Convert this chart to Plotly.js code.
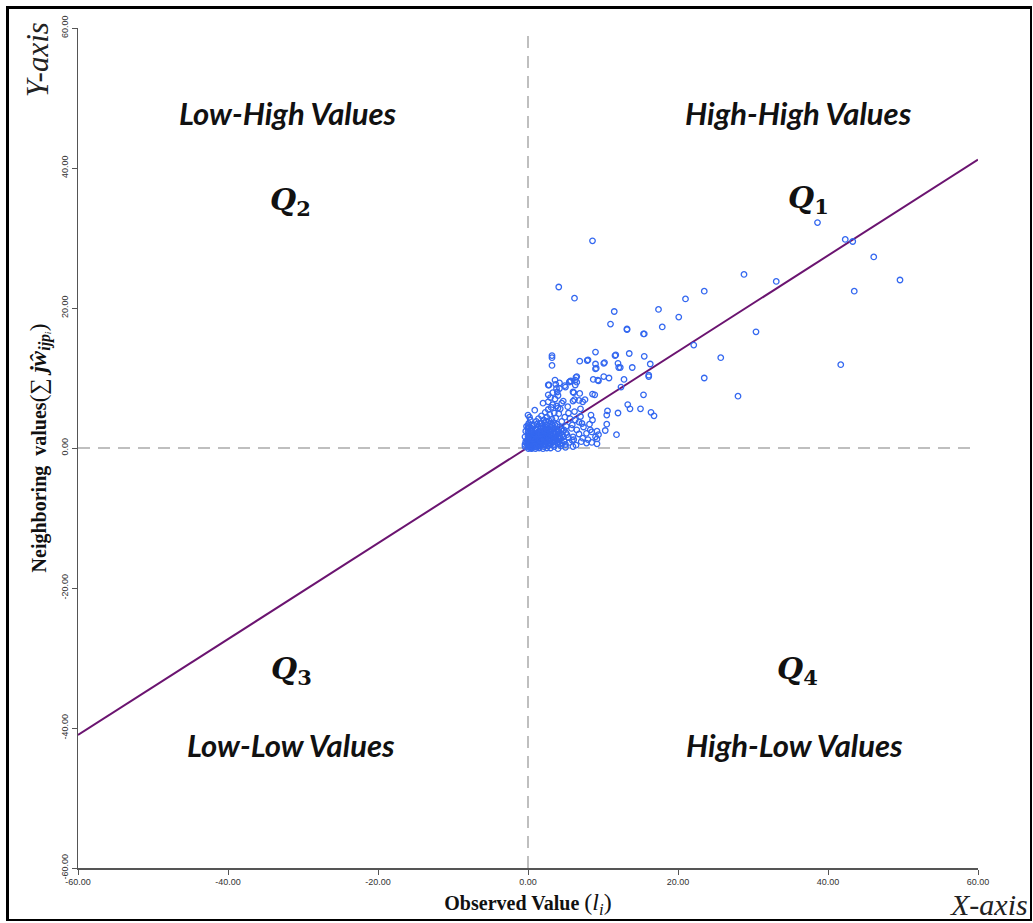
<!DOCTYPE html>
<html>
<head>
<meta charset="utf-8">
<script src="https://cdn.plot.ly/plotly-3.0.1.min.js"></script>
<style>
  html, body { margin: 0; padding: 0; background: #fff; }
  #wrap { position: relative; width: 1033px; height: 923px; }
  #chart { position: absolute; left: 0; top: 0; width: 1033px; height: 923px; }
  #frame { position: absolute; left: 6px; top: 6px; width: 1026px; height: 915px;
           box-sizing: border-box; border: 3px solid #000; border-right-width: 2px; border-bottom-width: 2px;
           pointer-events: none; }
</style>
</head>
<body>
<div id="wrap">
  <div id="chart"></div>
  <div id="frame"></div>
</div>
<script>
// ---- Data ----
// Outlying high values
const outlierX = [38.6, 42.3, 43.3, 46.1, 49.6, 43.5, 28.8, 33.1, 41.7, 30.4, 28.0, 25.7, 23.5, 22.1, 23.5, 21.0, 20.1, 17.4, 17.9, 15.4, 13.2, 11.5, 11.0, 8.6, 4.1, 6.2];
const outlierY = [32.2, 29.8, 29.5, 27.3, 24.0, 22.4, 24.8, 23.8, 11.9, 16.6, 7.4, 12.9, 10.0, 14.7, 22.4, 21.3, 18.7, 19.8, 17.3, 16.3, 17.0, 19.5, 17.7, 29.6, 23.0, 21.4];

// Middle spread
const midX = [15.5, 16.3, 16.1, 16.1, 15.4, 16.4, 16.8, 15.0, 13.6, 13.3, 12.0, 13.5, 11.6, 12.0, 12.1, 13.9, 12.8, 12.4, 9.0, 10.1,
              9.0, 9.0, 7.9, 6.9, 10.1, 10.8, 8.7, 9.3, 8.6, 3.2, 3.2, 3.2, 10.6, 10.5, 10.5, 10.3, 11.8, 8.4, 8.6, 8.3,
              9.2, 9.0, 9.2, 8.0, 7.3, 6.8, 7.0, 6.2, 6.0, 6.8, 7.3, 6.1, 6.0, 5.5, 6.3, 6.3, 5.0, 4.2, 4.2, 3.8,
              6.4, 2.7, 3.6, 4.9, 5.6, 8.9, 6.9, 7.6, 0.0, 0.9, 2.0, 2.7, 4.5, 4.0, 5.4, 6.3, 7.2, 8.5, 9.4, 7.8,
              8.5, 9.2, 6.0, 8.0, 9.1, 10.2, 11.7, 12.3, 6.5, 6.5, 5.7, 3.7, 3.9, 2.8, 2.7, 3.0, 3.3, 13.2, 15.5, 9.4];
const midY = [13.1, 12.0, 10.4, 10.2, 7.6, 5.1, 4.6, 5.6, 5.6, 6.2, 5.0, 13.5, 13.2, 12.1, 11.5, 11.5, 9.8, 8.7, 13.7, 12.1,
              12.0, 11.3, 12.5, 12.4, 10.2, 10.0, 9.8, 9.7, 7.7, 13.2, 12.9, 11.8, 5.3, 4.7, 3.4, 2.5, 1.9, 4.7, 4.0, 2.6,
              2.4, 1.6, 1.3, 1.2, 1.4, 3.7, 5.6, 6.9, 6.7, 6.8, 6.6, 7.9, 8.0, 9.4, 9.7, 9.0, 8.7, 9.3, 8.5, 8.5,
              10.1, 9.0, 9.7, 8.9, 9.5, 7.6, 7.8, 6.9, 4.7, 5.4, 6.4, 6.6, 6.4, 5.7, 5.0, 4.0, 3.5, 2.3, 1.9, 0.7,
              0.8, 0.6, 1.6, 12.6, 11.4, 12.2, 13.3, 11.5, 10.2, 9.4, 9.6, 9.1, 8.0, 9.0, 7.6, 7.2, 7.9, 16.9, 16.3, 9.6];

// Dense core near the origin
const coreX = [0.1, 0.2, 0.3, 0.4, 0.5, 0.6, 0.7, 0.8, 0.9, 1.0, 1.1, 1.2, 1.3, 1.4, 1.5, 1.6, 1.7, 1.8, 1.9, 2.0,
               2.1, 2.2, 2.3, 2.4, 2.5, 2.6, 2.7, 2.8, 2.9, 3.0, 3.1, 3.2, 3.3, 3.4, 3.5, 3.6, 3.8, 4.0, 4.2, 4.4,
               4.6, 4.8, 5.0, 5.2, 5.5, 5.8, 6.1, 6.4, 6.8, 7.1,
               0.1, 0.2, 0.1, 0.3, 0.2, 0.1, 0.3, 0.2, 0.4, 0.5, 0.6, 0.7, 0.8, 0.9, 1.0, 1.1, 1.2, 1.3, 1.4, 1.5,
               1.6, 1.7, 1.8, 1.9, 2.0, 2.1, 2.2, 2.3, 2.4, 2.5, 2.6, 2.7, 2.8, 2.9, 3.0, 3.1, 3.2, 3.3, 3.4, 3.5,
               3.6, 3.7, 3.8, 3.9, 4.0, 4.1, 4.3, 4.5, 4.7, 4.9, 5.1, 5.3, 5.6, 5.9, 6.2, 6.5, 7.0, 7.4, 7.8, 8.2,
               0.05, 0.15, 0.25, 0.35, 0.45, 0.55, 0.65, 0.75, 0.85, 0.95, 1.05, 1.15, 1.25, 1.35, 1.45, 1.55, 1.65, 1.75, 1.85, 1.95,
               2.05, 2.15, 2.25, 2.35, 2.45, 2.55, 2.65, 2.75, 2.85, 2.95, 3.15, 3.35, 3.55, 3.75, 3.95, 4.15, 4.35, 4.55, 4.75, 5.05,
               0.0, 0.0, 0.0, 0.0, 0.0, 0.0, 0.0, -0.1, -0.1, 0.05, 0.5, 1.0, 1.5, 2.0, 2.5, 3.0, 4.0, 5.0, 6.0, 0.4];
const coreY = [0.1, 0.3, 0.2, 0.5, 0.1, 0.4, 0.8, 0.3, 0.6, 0.2, 0.9, 0.5, 1.2, 0.3, 0.8, 1.5, 0.4, 1.1, 0.7, 1.8,
               0.2, 1.3, 0.6, 2.0, 0.9, 1.6, 0.3, 2.3, 1.0, 0.5, 1.9, 2.6, 0.8, 1.4, 0.2, 2.2, 1.1, 0.6, 1.7, 0.3,
               2.4, 1.0, 0.5, 1.9, 0.8, 2.8, 1.2, 0.4, 2.0, 0.9,
               1.0, 1.5, 2.0, 2.5, 3.0, 3.5, 4.0, 4.4, 1.8, 2.8, 1.3, 2.2, 3.3, 1.7, 2.6, 3.8, 2.1, 3.0, 4.2, 2.4,
               3.5, 2.9, 4.6, 3.2, 2.7, 4.0, 3.6, 5.1, 2.9, 4.4, 3.3, 5.5, 3.9, 4.8, 3.0, 5.8, 4.1, 6.2, 3.6, 5.0,
               7.0, 4.3, 6.0, 3.4, 7.5, 4.9, 5.6, 3.8, 6.7, 4.4, 3.1, 5.9, 4.2, 3.3, 5.2, 2.6, 4.5, 3.0, 2.1, 3.4,
               0.6, 0.9, 1.2, 0.7, 1.4, 0.9, 1.6, 1.1, 1.9, 1.3, 0.4, 1.6, 0.8, 2.0, 1.0, 1.9, 0.6, 2.3, 1.4, 0.9,
               2.5, 1.1, 1.9, 0.4, 1.5, 2.2, 1.2, 1.8, 0.7, 2.0, 1.3, 2.1, 1.0, 1.7, 2.5, 0.9, 1.4, 0.7, 1.6, 2.2,
               0.3, 0.8, 1.3, 1.7, 2.3, 2.8, 3.2, 0.5, 1.1, -0.1, -0.1, -0.1, 0.0, -0.1, 0.0, 0.0, -0.1, 0.1, 0.2, 0.0];

// Extra points filling the solid block at the origin
const denseX = [-0.4, -0.3, -0.4, -0.3, -0.2, -0.4, 0.3, 0.6, 0.9, 1.2, 1.5, 1.8, 2.1, 2.4, 2.7, 3.0, 3.3, 3.6, 3.9, 4.2,
                0.4, 0.7, 1.0, 1.3, 1.6, 1.9, 2.2, 2.5, 2.8, 3.1, 3.4, 3.7, 4.0, 4.3, 4.6, 0.2, 0.5, 0.8, 1.1, 1.4,
                1.7, 2.0, 2.3, 2.6, 2.9, 3.2, 3.5, 3.8, 4.1, 4.4, 0.6, 1.2, 1.8, 2.4, 3.0, 3.6, 4.2, 4.8, 5.4, 5.9];
const denseY = [0.2, 0.9, 1.6, 2.4, 3.1, 0.5, 0.6, 0.2, 1.0, 0.1, 0.4, 0.9, 0.5, 1.1, 0.7, 1.3, 0.4, 1.6, 0.8, 1.2,
                1.5, 1.3, 1.8, 2.0, 1.1, 2.2, 2.6, 1.8, 1.5, 2.4, 1.0, 2.0, 1.5, 0.6, 1.9, 2.2, 2.5, 2.0, 2.7, 2.3,
                2.0, 2.9, 2.4, 2.7, 2.5, 3.2, 2.8, 2.6, 2.3, 2.7, 3.1, 3.4, 3.6, 3.8, 3.5, 3.3, 3.0, 2.6, 1.5, 1.1];

// Fitted line (Moran slope) end points
const lineX = [-60, 60];
const lineY = [-41.0, 41.2];

// Axis ticks
const tickVals = [-60, -40, -20, 0, 20, 40, 60];
const tickText = ['-60.00', '-40.00', '-20.00', '0.00', '20.00', '40.00', '60.00'];

// Quadrant labels
const quadText = ['<b><i>Low-High Values</i></b>', '<b><i>High-High Values</i></b>', '<b><i>Low-Low Values</i></b>', '<b><i>High-Low Values</i></b>'];
const quadX = [-32, 36, -31.6, 35.5];
const quadY = [47.9, 47.9, -42.4, -42.4];
const qText = ['<b><i>Q</i><sub>2</sub></b>', '<b><i>Q</i><sub>1</sub></b>', '<b><i>Q</i><sub>3</sub></b>', '<b><i>Q</i><sub>4</sub></b>'];
const qX = [-31.7, 37.4, -31.6, 35.9];
const qY = [35.2, 35.5, -31.8, -31.8];

// ---- Build ----
const allX = outlierX.concat(midX, coreX, denseX);
const allY = outlierY.concat(midY, coreY, denseY);

const traces = [
  {
    x: lineX, y: lineY, type: 'scatter', mode: 'lines',
    line: { color: '#6b1470', width: 2 }, hoverinfo: 'skip', showlegend: false
  },
  {
    x: allX, y: allY, type: 'scatter', mode: 'markers',
    marker: { symbol: 'circle-open', size: 5.5, color: '#3468f0', line: { width: 1.3, color: '#3468f0' } },
    showlegend: false
  }
];

const annotations = [];
for (let i = 0; i < quadText.length; i++) {
  annotations.push({ x: quadX[i], y: quadY[i], xref: 'x', yref: 'y', text: quadText[i], showarrow: false,
    font: { family: 'Lato, Open Sans, sans-serif', size: 31, color: '#111' } });
  annotations.push({ x: qX[i], y: qY[i], xref: 'x', yref: 'y', text: qText[i], showarrow: false,
    font: { family: 'DejaVu Serif, Liberation Serif, serif', size: 30, color: '#111' } });
}
annotations.push({ xref: 'paper', yref: 'paper', x: 1.058, y: -0.044, xanchor: 'right', yanchor: 'middle',
  text: '<i>X-axis</i>', showarrow: false, font: { family: 'Liberation Serif, Times New Roman, serif', size: 30, color: '#222' } });
annotations.push({ xref: 'paper', yref: 'paper', x: -0.044, y: 0.962, xanchor: 'center', yanchor: 'middle', textangle: -90,
  text: '<i>Y-axis</i>', showarrow: false, font: { family: 'Liberation Serif, Times New Roman, serif', size: 31, color: '#222' } });

const layout = {
  width: 1033, height: 923,
  margin: { l: 78, r: 55, t: 28, b: 55 },
  paper_bgcolor: '#fff', plot_bgcolor: '#fff',
  showlegend: false,
  xaxis: {
    range: [-60, 60], tickvals: tickVals, ticktext: tickText,
    showgrid: false, zeroline: false, showline: true, linecolor: '#555', linewidth: 1.5,
    ticks: 'outside', ticklen: 5, tickcolor: '#555', tickwidth: 1,
    tickfont: { family: 'Liberation Sans, Arial, sans-serif', size: 9, color: '#333' },
    title: { text: '<b>Observed Value </b><span style="font-size:24px">(<i>l<sub>i</sub></i>)</span>', standoff: 9,
      font: { family: 'Liberation Serif, Times New Roman, serif', size: 20, color: '#111' } }
  },
  yaxis: {
    range: [-60, 60], tickvals: tickVals, ticktext: tickText, tickangle: -90,
    showgrid: false, zeroline: false, showline: true, linecolor: '#555', linewidth: 1.5,
    ticks: 'outside', ticklen: 5, tickcolor: '#555', tickwidth: 1,
    tickfont: { family: 'Liberation Sans, Arial, sans-serif', size: 9, color: '#333' },
    title: { text: '<b>Neighboring  values</b><span style="font-size:23px">(∑ <b><i>jŵ</i></b><sub><b><i>ijp</i></b><i>ᵢ</i></sub>)</span>', standoff: 8,
      font: { family: 'Liberation Serif, Times New Roman, serif', size: 20, color: '#111' } }
  },
  shapes: [
    { type: 'line', xref: 'x', yref: 'y', x0: 0, x1: 0, y0: -60, y1: 59, line: { color: '#aaa', width: 1.5, dash: '12px,8px' }, layer: 'below' },
    { type: 'line', xref: 'x', yref: 'y', x0: -60, x1: 60, y0: 0, y1: 0, line: { color: '#aaa', width: 1.5, dash: '12px,8px' }, layer: 'below' }
  ],
  annotations: annotations
};

Plotly.newPlot('chart', traces, layout, { displayModeBar: false, staticPlot: true });
</script>
</body>
</html>
